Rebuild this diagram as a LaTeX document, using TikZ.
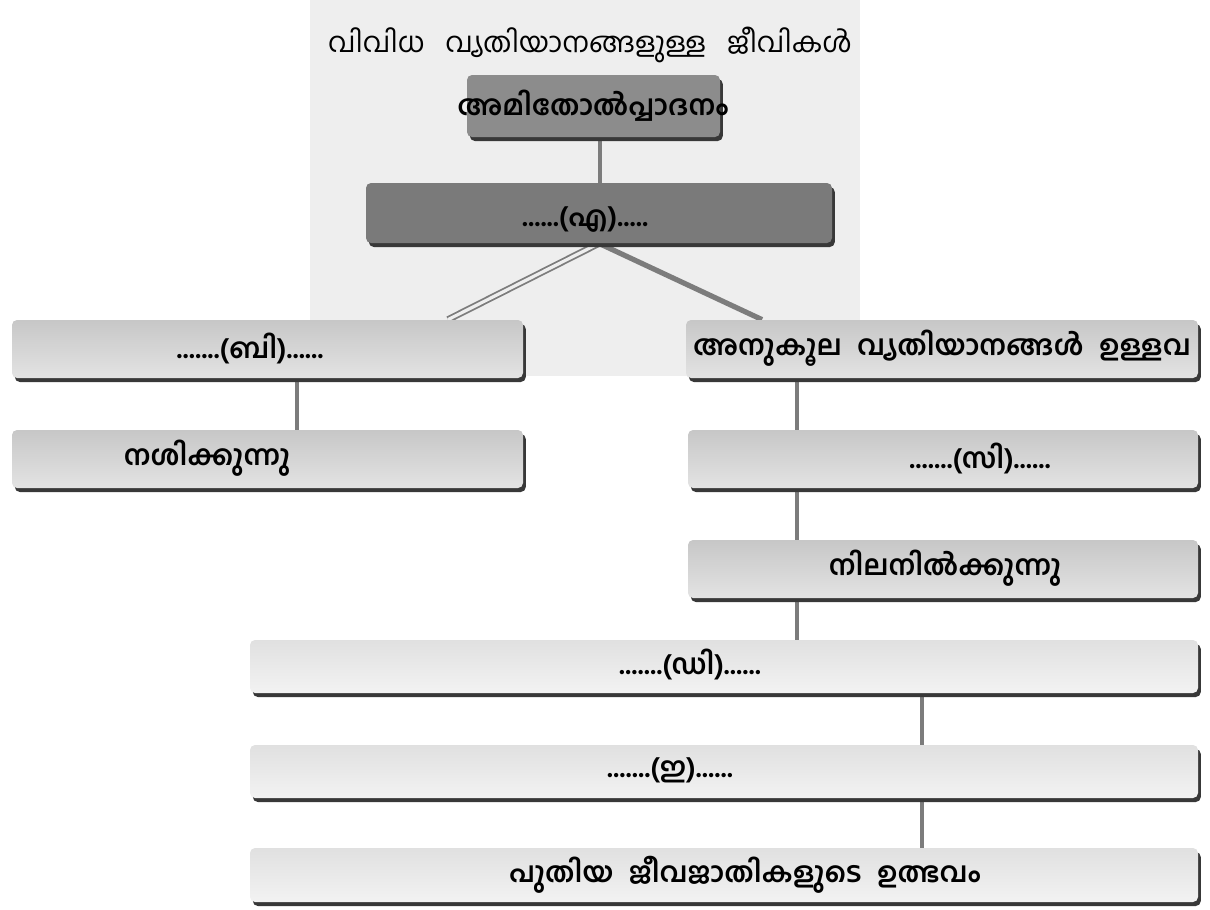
\documentclass[tikz,border=0pt]{standalone}
\usepackage{fontspec}
\newfontfamily\mlfont[Script=Malayalam]{Hind Kochi}
\usetikzlibrary{calc,fit,shadows}
\pgfdeclarelayer{bg}
\pgfsetlayers{bg,main}
\definecolor{linegray}{HTML}{7C7C7C}
\definecolor{panelgray}{HTML}{EEEEEE}
\begin{document}
\begin{tikzpicture}[x=0.5pt,y=-0.5pt,
  boxbase/.style={inner sep=0pt, rounded corners=2.5pt,
    drop shadow={shadow xshift=1.4pt, shadow yshift=-2pt, fill=black!78, opacity=1}},
  midbox/.style={boxbase, top color=black!22, bottom color=black!11},
  lightbox/.style={boxbase, top color=black!12, bottom color=black!5},
  darkbox/.style={boxbase, fill=black!45},
  darkerbox/.style={boxbase, fill=black!52},
  lbl/.style={font=\mlfont\bfseries\fontsize{14}{16}\selectfont, inner sep=0pt},
  conn/.style={draw=linegray, line width=2.2pt}]

\useasboundingbox (0,0) rectangle (1210,910);

% title
\node[font=\mlfont\fontsize{14}{16}\selectfont, inner sep=0pt] (title) at (590,45)
  {വിവിധ\hspace{0.5em} വ്യതിയാനങ്ങളുള്ള\hspace{0.5em} ജീവികൾ};

% boxes
\node[darkbox, fit={(467,75) (720,137)}] (A1) {};
\node[darkerbox, fit={(366,183) (832,243)}] (A2) {};
\node[midbox, fit={(12,320) (523,378)}] (B) {};
\node[midbox, fit={(12,430) (523,488)}] (N) {};
\node[midbox, fit={(686,320) (1198,378)}] (R1) {};
\node[midbox, fit={(688,430) (1198,488)}] (C) {};
\node[midbox, fit={(688,540) (1198,598)}] (N2) {};
\node[lightbox, fit={(250,640) (1198,693)}] (D) {};
\node[lightbox, fit={(250,745) (1198,798)}] (E) {};
\node[lightbox, fit={(250,848) (1198,902)}] (F) {};

% box texts
\node[lbl] (tA1) at (593,106) {അമിതോൽപ്പാദനം};
\node[lbl] (tA2) at (585,220) {......(എ).....};
\node[lbl] (tB)  at (250,348) {.......(ബി)......};
\node[lbl] (tN)  at (207,458) {നശിക്കുന്നു};
\node[lbl] (tR1) at (942,348) {അനുകൂല\hspace{0.3em} വ്യതിയാനങ്ങൾ\hspace{0.3em} ഉള്ളവ};
\node[lbl] (tC)  at (980,458) {.......(സി)......};
\node[lbl] (tN2) at (945,568) {നിലനിൽക്കുന്നു};
\node[lbl] (tD)  at (690,664) {.......(ഡി)......};
\node[lbl] (tE)  at (670,770) {.......(ഇ)......};
\node[lbl] (tF)  at (745,875) {പുതിയ\hspace{0.3em} ജീവജാതികളുടെ\hspace{0.3em} ഉത്ഭവം};

% x positions of the vertical links
\coordinate (xa) at (600,0);
\coordinate (xl) at (297,0);
\coordinate (xr) at (797,0);
\coordinate (xb) at (922,0);
\coordinate (xbl) at (448,0);
\coordinate (xbr) at (762,0);

\begin{pgfonlayer}{bg}
  \fill[panelgray] (310,0) rectangle (860,376);
  \draw[conn] (A1.south -| xa) -- (A2.north -| xa);
  \draw[draw=linegray, line width=0.9pt, double=panelgray, double distance=1.6pt]
    (A2.south) -- (B.north -| xbl);
  \draw[conn, line width=2.6pt] (A2.south) -- (R1.north -| xbr);
  \draw[conn] (B.south -| xl) -- (N.north -| xl);
  \draw[conn] (R1.south -| xr) -- (C.north -| xr);
  \draw[conn] (C.south -| xr) -- (N2.north -| xr);
  \draw[conn] (N2.south -| xr) -- (D.north -| xr);
  \draw[conn] (D.south -| xb) -- (E.north -| xb);
  \draw[conn] (E.south -| xb) -- (F.north -| xb);
\end{pgfonlayer}
\end{tikzpicture}
\end{document}
